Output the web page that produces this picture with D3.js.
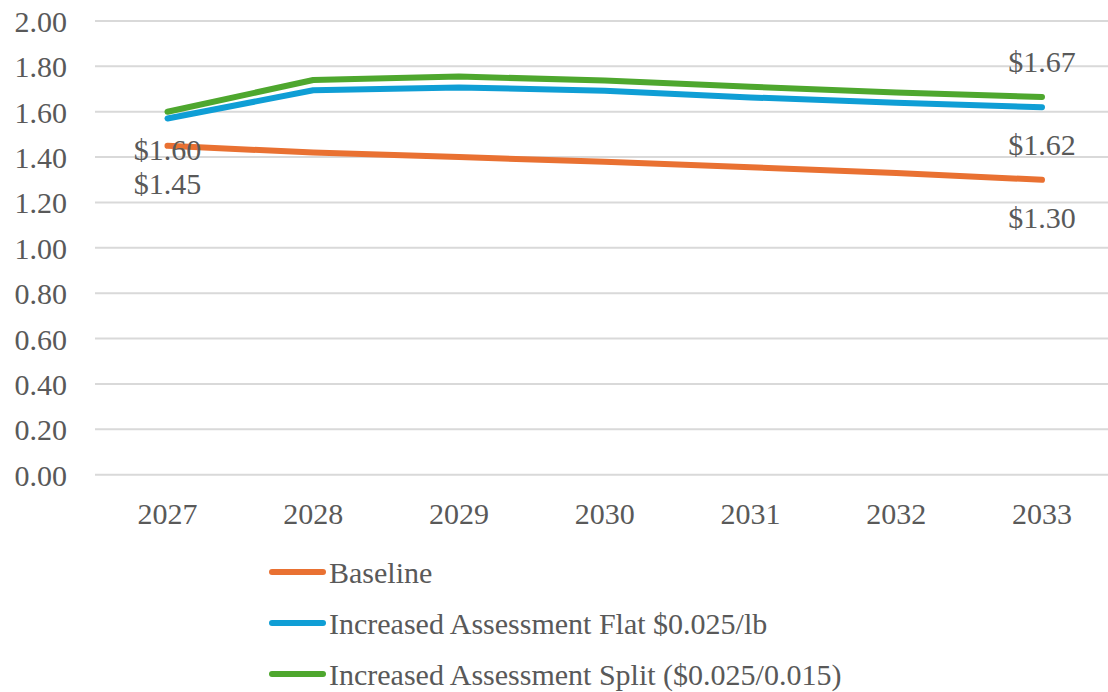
<html>
<head>
<meta charset="UTF-8">
<script src="https://d3js.org/d3.v7.min.js"></script>
</head>
<body style="margin:0; background:#ffffff">
<svg id="chart" width="1108" height="692"></svg>
<script>
// chart data
const years = ["2027", "2028", "2029", "2030", "2031", "2032", "2033"];
const seriesNames = ["Baseline", "Increased Assessment Flat $0.025/lb", "Increased Assessment Split ($0.025/0.015)"];
const seriesColors = ["#E97132", "#0F9ED5", "#4EA72E"];
const baseline = [1.45, 1.42, 1.40, 1.38, 1.355, 1.33, 1.30];
const flat = [1.57, 1.695, 1.707, 1.693, 1.663, 1.64, 1.62];
const split = [1.60, 1.74, 1.755, 1.738, 1.71, 1.685, 1.665];
const yTicks = [0, 0.2, 0.4, 0.6, 0.8, 1.0, 1.2, 1.4, 1.6, 1.8, 2.0];
// data labels: [series index, year index, text, position]
const dataLabels = [
  [2, 0, "$1.60", "below"],
  [0, 0, "$1.45", "below"],
  [2, 6, "$1.67", "above"],
  [1, 6, "$1.62", "below"],
  [0, 6, "$1.30", "below"]
];

const allSeries = [baseline, flat, split];
const svg = d3.select("svg#chart");
const textStyle = "font-family:'Liberation Serif','Times New Roman',serif;font-size:30px;fill:#595959";

const x = d3.scalePoint().domain(years).range([167.5, 1042]);
const y = d3.scaleLinear().domain([0, 2]).range([474.7, 21]);

// gridlines
svg.append("g").selectAll("line").data(yTicks).join("line")
   .attr("x1", 95).attr("x2", 1108)
   .attr("y1", d => y(d)).attr("y2", d => y(d))
   .attr("stroke", "#d9d9d9").attr("stroke-width", 2);

// y tick labels
svg.append("g").selectAll("text").data(yTicks).join("text")
   .attr("x", 67).attr("y", d => y(d) + 11)
   .attr("text-anchor", "end")
   .attr("style", textStyle)
   .text(d => d.toFixed(2));

// x tick labels
svg.append("g").selectAll("text").data(years).join("text")
   .attr("x", d => x(d)).attr("y", 524)
   .attr("text-anchor", "middle")
   .attr("style", textStyle)
   .text(d => d);

// lines
const line = d3.line().x((d, i) => x(years[i])).y(d => y(d));
allSeries.forEach((s, i) => {
  svg.append("path")
     .datum(s)
     .attr("d", line)
     .attr("fill", "none")
     .attr("stroke", seriesColors[i])
     .attr("stroke-width", 6)
     .attr("stroke-linecap", "round")
     .attr("stroke-linejoin", "round");
});

// data labels
dataLabels.forEach(l => {
  const v = allSeries[l[0]][l[1]];
  svg.append("text")
     .attr("x", x(years[l[1]]))
     .attr("y", l[3] == "below" ? y(v) + 48 : y(v) - 25)
     .attr("text-anchor", "middle")
     .attr("style", textStyle)
     .text(l[2]);
});

// legend
seriesNames.forEach((name, i) => {
  const cy = 572 + i * 51;
  svg.append("line")
     .attr("x1", 272).attr("x2", 323)
     .attr("y1", cy).attr("y2", cy)
     .attr("stroke", seriesColors[i])
     .attr("stroke-width", 6)
     .attr("stroke-linecap", "round");
  svg.append("text")
     .attr("x", 329).attr("y", cy + 11)
     .attr("style", textStyle)
     .text(name);
});
</script>
</body>
</html>
